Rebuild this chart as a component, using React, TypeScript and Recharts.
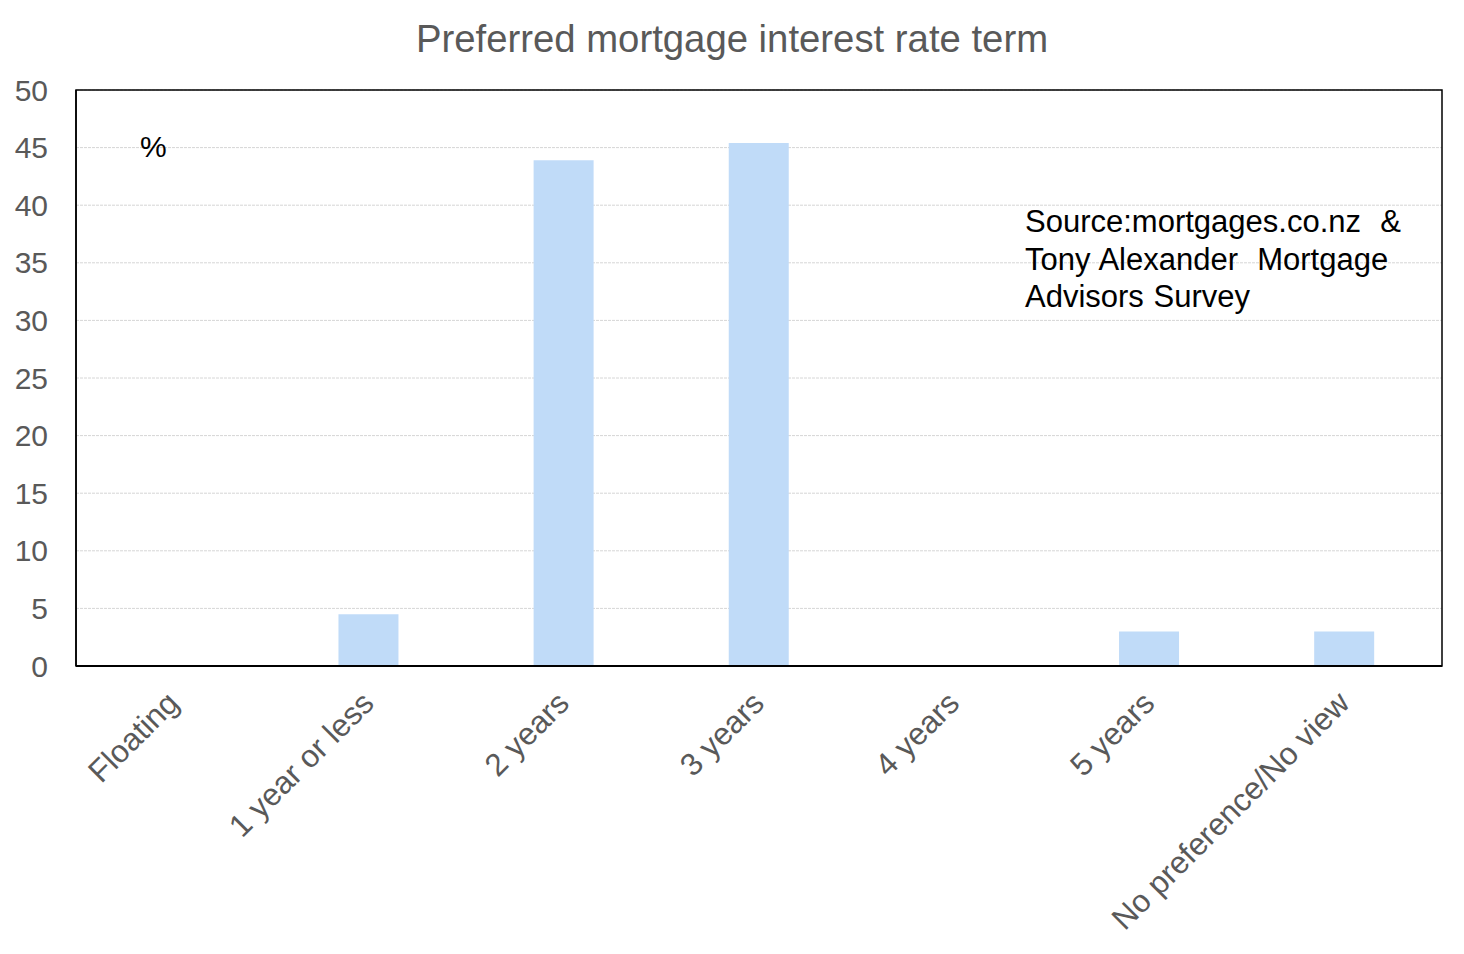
import React from "react";
import { BarChart, Bar, XAxis, YAxis, CartesianGrid, ReferenceArea } from "recharts";

const categories = ["Floating", "1 year or less", "2 years", "3 years", "4 years", "5 years", "No preference/No view"];
const shares = [0, 4.5, 43.9, 45.4, 0, 3.0, 3.0];
const yTicks = [0, 5, 10, 15, 20, 25, 30, 35, 40, 45, 50];
const title = "Preferred mortgage interest rate term";
const sourceLines = ["Source:mortgages.co.nz\u00a0 &", "Tony Alexander\u00a0 Mortgage", "Advisors Survey"];

const data = categories.map((c, i) => ({ name: c, value: shares[i] }));

const FONT = "'Liberation Sans', Arial, sans-serif";

const XTick = (props: any) => {
  const { x, y, payload } = props;
  const ax = x + 7;
  const ay = y + 31;
  return (
    <text
      x={ax}
      y={ay}
      transform={`rotate(-45, ${ax}, ${ay})`}
      textAnchor="end"
      fontSize={31.5}
      fontFamily={FONT}
      fill="#595959"
    >
      {payload.value}
    </text>
  );
};

export default function App() {
  return (
    <div style={{ position: "absolute", left: 0, top: 0, width: 1464, height: 954, background: "#fff" }}>
      <BarChart
        width={1464}
        height={954}
        data={data}
        margin={{ top: 90, right: 22, left: 0, bottom: 0 }}
        barCategoryGap="34.5%"
      >
        <CartesianGrid vertical={false} stroke="#d6d6d6" strokeDasharray="3 1" />
        <XAxis
          dataKey="name"
          height={288}
          interval={0}
          tickLine={false}
          axisLine={{ stroke: "#000", strokeWidth: 2 }}
          tick={<XTick />}
        />
        <YAxis
          width={76}
          domain={[0, 50]}
          ticks={yTicks}
          interval={0}
          tickLine={false}
          tickSize={0}
          tickMargin={28}
          axisLine={{ stroke: "#000", strokeWidth: 1.5 }}
          tick={{ fontSize: 30, fontFamily: FONT, fill: "#595959" }}
        />
        <Bar dataKey="value" fill="#c0dbf8" isAnimationActive={false} />
        <ReferenceArea
          y1={0}
          y2={50}
          fill="none"
          fillOpacity={0}
          stroke="#000"
          strokeWidth={1.5}
          ifOverflow="visible"
        />
      </BarChart>
      <svg
        width={1464}
        height={954}
        style={{ position: "absolute", left: 0, top: 0, pointerEvents: "none" }}
      >
        <text x={732} y={52} textAnchor="middle" fontSize={38.3} fontFamily={FONT} fill="#595959">
          {title}
        </text>
        <text x={140} y={157} fontSize={30} fontFamily={FONT} fill="#000">
          %
        </text>
        {sourceLines.map((l, i) => (
          <text key={i} x={1025} y={232 + i * 37.5} fontSize={31} fontFamily={FONT} fill="#000" wordSpacing={1}>
            {l}
          </text>
        ))}
      </svg>
    </div>
  );
}
